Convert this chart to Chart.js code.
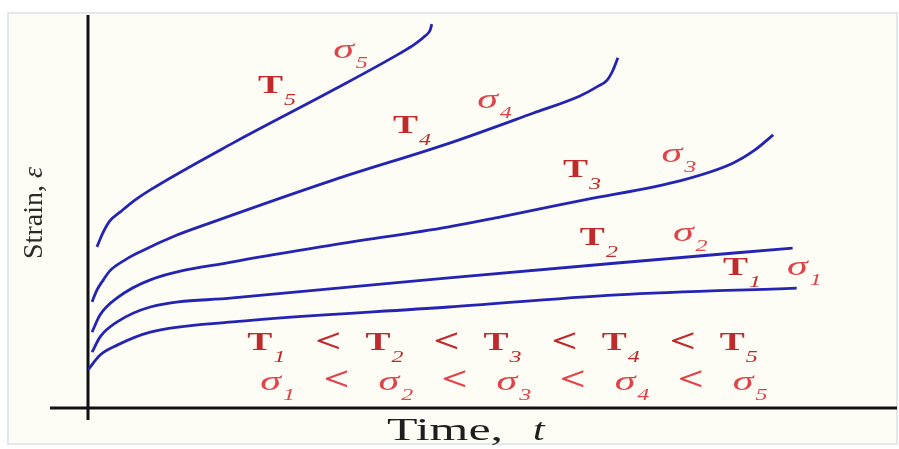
<!DOCTYPE html>
<html>
<head>
<meta charset="utf-8">
<script src="https://cdn.jsdelivr.net/npm/chart.js@4/dist/chart.umd.min.js"></script>
<style>
  html, body { margin: 0; padding: 0; background: #ffffff; }
  #wrap { width: 899px; height: 449px; }
</style>
</head>
<body>
<div id="wrap"><canvas id="creep" width="899" height="449"></canvas></div>
<script>
// creep curves, strain vs time (arbitrary units 0..100)
const time1 = [0, 1.5, 3.6, 7.7, 17.9, 44.6, 65.4, 87.6];
const strain1 = [9.7, 13.5, 16.0, 19.3, 21.9, 25.7, 28.8, 30.5];

const time2 = [0.5, 1.5, 3.6, 7.7, 17.9, 44.6, 65.4, 87.1];
const strain2 = [14.2, 18.1, 21.9, 25.7, 28.0, 33.1, 36.9, 40.7];

const time3 = [0.5, 1.5, 3.6, 7.7, 17.9, 30.3, 44.6, 50.9, 61.2, 73.5, 79.7, 82.4, 84.7];
const strain3 = [19.3, 23.7, 28.0, 32.6, 37.2, 41.5, 46.1, 48.6, 52.9, 58.0, 62.3, 65.6, 69.5];

const time4 = [0.5, 1.1, 1.9, 2.7, 4.6, 6.4, 11.0, 14.7, 30.3, 44.7, 55.0, 60.8, 62.9, 64.2, 64.9, 65.5];
const strain4 = [27.0, 30.0, 32.6, 34.9, 37.7, 39.7, 44.0, 46.8, 58.0, 67.4, 75.0, 79.4, 81.7, 83.5, 86.0, 89.1];

const time5 = [1.1, 1.9, 2.7, 4.0, 5.8, 7.7, 17.9, 30.3, 38.6, 40.4, 41.7, 42.3, 42.5];
const strain5 = [41.0, 44.8, 47.6, 49.9, 52.9, 55.5, 67.4, 80.9, 90.3, 92.6, 94.7, 96.2, 97.7];

// curve tags: [base, subscript, time, strain]
const tempTags = [
    ['T', '5', 21.0, 80.2],
    ['T', '4', 37.7, 70.0],
    ['T', '3', 58.7, 58.8],
    ['T', '2', 60.8, 41.6],
    ['T', '1', 78.5, 33.8]
];
const stressTags = [
    ['σ', '5', 30.3, 89.1],
    ['σ', '4', 48.1, 76.3],
    ['σ', '3', 70.9, 62.6],
    ['σ', '2', 72.3, 42.5],
    ['σ', '1', 86.4, 33.8]
];
const subs = ['1', '2', '3', '4', '5'];

const BLUE = '#2424b4';
const RED_T = '#c02a2a';
const RED_S = '#e04448';
const SERIF = '"Liberation Serif", "Times New Roman", serif';
const STRETCH = 1.5;

function pairs(xs, ys) {
    return xs.map((x, i) => ({ x, y: ys[i] }));
}

function wideText(ctx, text, x, y, font, color, sx) {
    ctx.save();
    ctx.translate(x, y);
    ctx.scale(sx, 1);
    ctx.font = font;
    ctx.fillStyle = color;
    ctx.textBaseline = 'alphabetic';
    ctx.textAlign = 'left';
    ctx.fillText(text, 0, 0);
    const w = ctx.measureText(text).width * sx;
    ctx.restore();
    return w;
}

function drawT(ctx, sub, x, y) {
    const w = wideText(ctx, 'T', x, y, `bold 25px ${SERIF}`, RED_T, STRETCH);
    return w + 1 + wideText(ctx, sub, x + w + 1, y + 12, `italic 16px ${SERIF}`, RED_T, STRETCH);
}

function drawSigma(ctx, sub, x, y) {
    const w = wideText(ctx, 'σ', x, y, `italic 28px ${SERIF}`, RED_S, STRETCH);
    return w + 2 + wideText(ctx, sub, x + w + 2, y + 10, `italic 16px ${SERIF}`, RED_S, STRETCH);
}

const creepDecor = {
    id: 'creepDecor',
    beforeDraw(chart) {
        const { ctx, width, height } = chart;
        ctx.save();
        ctx.fillStyle = '#ffffff';
        ctx.fillRect(0, 0, width, height);
        ctx.fillStyle = '#fdfdf6';
        ctx.fillRect(8, 13, width - 10, height - 18);
        ctx.strokeStyle = '#e1e7eb';
        ctx.lineWidth = 2;
        ctx.strokeRect(8, 13, width - 10, height - 18);
        ctx.restore();
    },
    beforeDatasetsDraw(chart) {
        const { ctx, chartArea, scales } = chart;
        const x0 = scales.x.getPixelForValue(0);
        const y0 = scales.y.getPixelForValue(0);
        ctx.save();
        ctx.strokeStyle = '#111111';
        ctx.lineWidth = 3;
        ctx.beginPath();
        ctx.moveTo(x0, chartArea.top);
        ctx.lineTo(x0, y0 + 12);
        ctx.moveTo(x0 - 38, y0);
        ctx.lineTo(chartArea.right, y0);
        ctx.stroke();

        // axis titles
        ctx.fillStyle = '#2b2b2b';
        ctx.translate(42, 213);
        ctx.rotate(-Math.PI / 2);
        ctx.font = `28px ${SERIF}`;
        const head = 'Strain, ';
        const hw = ctx.measureText(head).width;
        ctx.font = `italic 28px ${SERIF}`;
        const ew = ctx.measureText('ε').width;
        ctx.font = `28px ${SERIF}`;
        ctx.fillText(head, -(hw + ew) / 2, 0);
        ctx.font = `italic 28px ${SERIF}`;
        ctx.fillText('ε', -(hw + ew) / 2 + hw, 0);
        ctx.restore();

        const tw = wideText(ctx, 'Time,', 387, 440, `32px ${SERIF}`, '#1e1e1e', 1.56);
        wideText(ctx, 't', 387 + tw + 30, 440, `italic 32px ${SERIF}`, '#1e1e1e', 1.3);
    },
    afterDatasetsDraw(chart) {
        const { ctx, scales } = chart;
        const px = v => scales.x.getPixelForValue(v);
        const py = v => scales.y.getPixelForValue(v);
        tempTags.forEach(([, sub, t, s]) => drawT(ctx, sub, px(t), py(s)));
        stressTags.forEach(([, sub, t, s]) => drawSigma(ctx, sub, px(t), py(s)));

        // ordering rows under the curves
        const step = 14.6;
        const lessFont = `bold 34px ${SERIF}`;
        subs.forEach((sub, i) => {
            const tx = px(19.7 + i * step);
            drawT(ctx, sub, tx, py(14.8));
            if (i < subs.length - 1) wideText(ctx, '<', px(19.7 + i * step + 8.4), py(14.8) + 2, lessFont, RED_T, 1.35);
            const sx = px(21.3 + i * step);
            drawSigma(ctx, sub, sx, py(4.6));
            if (i < subs.length - 1) wideText(ctx, '<', px(21.3 + i * step + 7.8), py(4.6), lessFont, RED_S, 1.35);
        });
    }
};

const series = [
    pairs(time1, strain1),
    pairs(time2, strain2),
    pairs(time3, strain3),
    pairs(time4, strain4),
    pairs(time5, strain5)
];

new Chart(document.getElementById('creep'), {
    type: 'line',
    data: {
        datasets: series.map((data, i) => ({
            label: `T${i + 1}`,
            data,
            borderColor: BLUE,
            borderWidth: 2.8,
            pointRadius: 0,
            fill: false,
            cubicInterpolationMode: 'monotone'
        }))
    },
    options: {
        responsive: false,
        devicePixelRatio: 1,
        animation: false,
        layout: { padding: { left: 88, right: 2, top: 15, bottom: 41 } },
        plugins: { legend: { display: false }, tooltip: { enabled: false } },
        scales: {
            x: { type: 'linear', min: 0, max: 100, display: false },
            y: { type: 'linear', min: 0, max: 100, display: false }
        }
    },
    plugins: [creepDecor]
});
</script>
</body>
</html>
